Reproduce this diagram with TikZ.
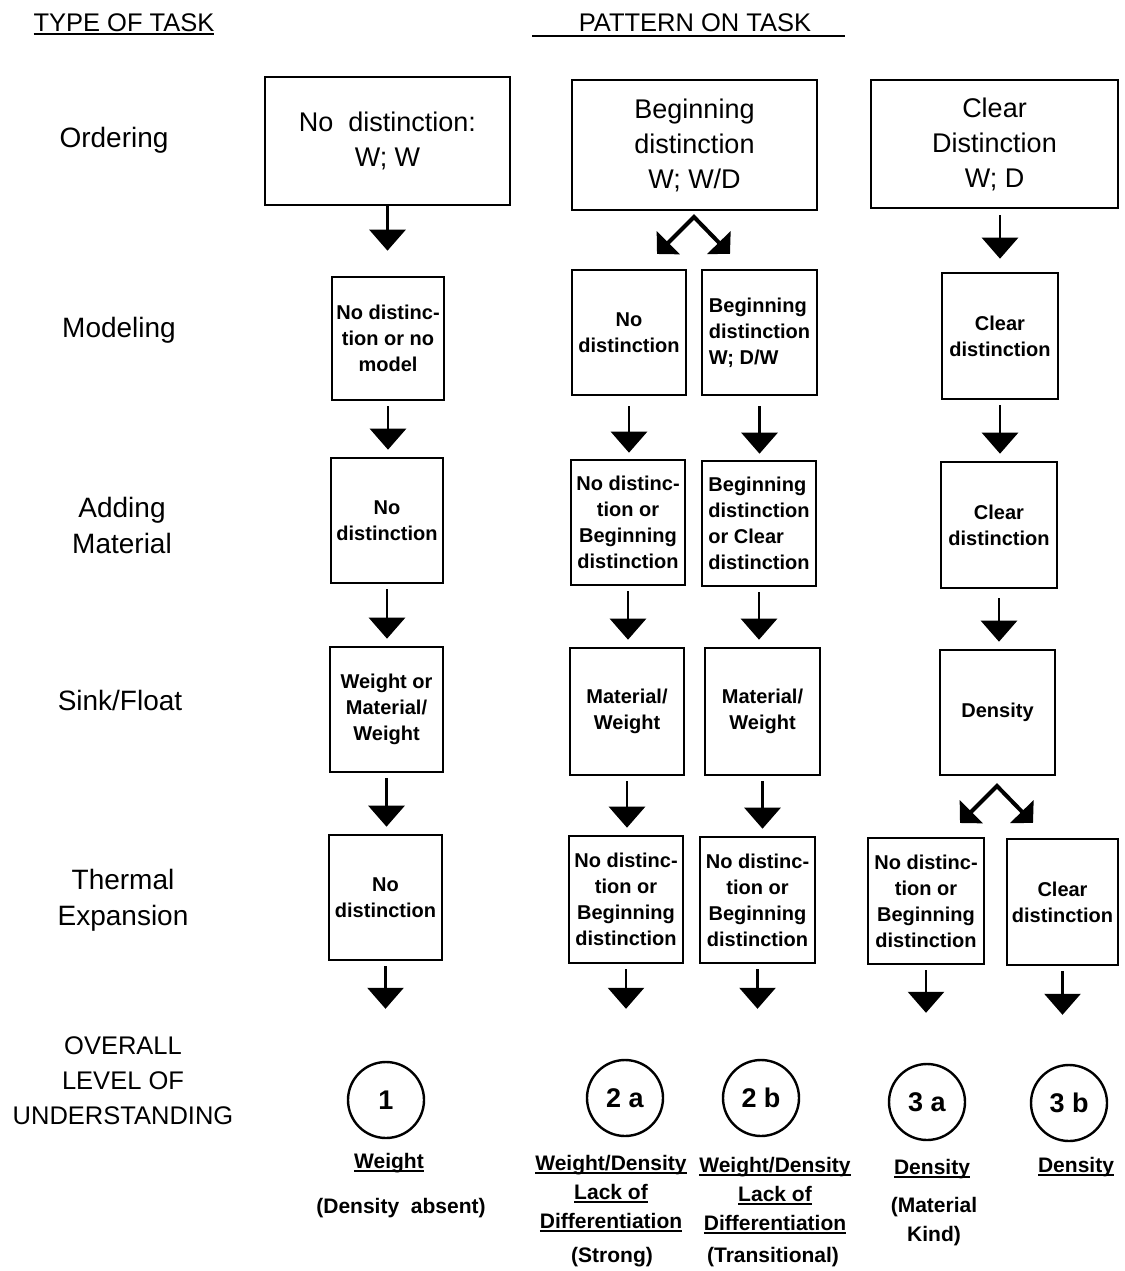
\documentclass[tikz,border=0pt]{standalone}
\usepackage{fontspec}
\setmainfont{Liberation Sans}
\usetikzlibrary{arrows.meta}
\newcommand\myul[1]{\setbox0\hbox{#1}\rlap{\rule[-3.5pt]{\wd0}{2pt}}\box0}
\begin{document}
\begin{tikzpicture}[x=1pt,y=-1pt,
  box/.style={draw, line width=2.6pt, inner sep=0pt, align=center, font=\fontsize{20}{26}\selectfont\bfseries},
  obox/.style={draw, line width=2.4pt, inner sep=0pt, align=center, font=\fontsize{27}{35}\selectfont},
  lab/.style={align=center, inner sep=0pt, font=\fontsize{28}{36}\selectfont},
  hdr/.style={inner sep=0pt, font=\fontsize{25.5}{30}\selectfont},
  circ/.style={draw, circle, line width=2.4pt, minimum size=76pt, inner sep=0pt, font=\fontsize{27}{30}\selectfont\bfseries},
  btxt/.style={align=center, inner sep=0pt, font=\fontsize{21}{29}\selectfont\bfseries},
  varr/.style={line width=2.8pt, -{Triangle[width=36pt,length=21pt]}, shorten <=5pt, shorten >=7pt},
  darr/.style={line width=4pt, line join=miter, {Triangle[width=32pt,length=16pt]}-{Triangle[width=32pt,length=16pt]}}
]
\useasboundingbox (0,0) rectangle (1124,1271);

% headers
\node[hdr] (h1) at (124,24) {\myul{TYPE OF TASK}};
\node[hdr] (h2) at (695,23) {PATTERN ON TASK};
\draw[line width=2pt] (532,36) -- (845,36);

% row labels
\node[lab] (l1) at (114,140) {Ordering};
\node[lab] (l2) at (119,330) {Modeling};
\node[lab] (l3) at (122,525) {Adding\\Material};
\node[lab] (l4) at (120,700) {Sink/Float};
\node[lab] (l5) at (123,900) {Thermal\\Expansion};
\node[lab, font=\fontsize{25.5}{35}\selectfont] (l6) at (123,1081) {OVERALL\\LEVEL OF\\UNDERSTANDING};

% ordering boxes
\node[obox, minimum width=245pt, minimum height=128pt] (o1) at (387.5,141) {No~ distinction:\\W; W};
\node[obox, minimum width=245pt, minimum height=130pt] (o2) at (694.5,145) {Beginning\\distinction\\W; W/D};
\node[obox, minimum width=247pt, minimum height=128pt] (o3) at (994.5,144) {Clear\\Distinction\\W; D};

% modeling
\node[box, minimum width=112pt, minimum height=123pt] (m1) at (388,338.5) {No distinc-\\tion or no\\model};
\node[box, minimum width=114pt, minimum height=125pt] (m2a) at (629,332.5) {No\\distinction};
\node[box, minimum width=115pt, minimum height=125pt, align=left] (m2b) at (759.5,332.5) {Beginning\\distinction\\W; D/W};
\node[box, minimum width=116pt, minimum height=126pt] (m3) at (1000,336) {Clear\\distinction};

% adding material
\node[box, minimum width=112pt, minimum height=125pt] (a1) at (387,520.5) {No\\distinction};
\node[box, minimum width=114pt, minimum height=125pt] (a2a) at (628,522.5) {No distinc-\\tion or\\Beginning\\distinction};
\node[box, minimum width=114pt, minimum height=125pt, align=left] (a2b) at (759,523.5) {Beginning\\distinction\\or Clear\\distinction};
\node[box, minimum width=116pt, minimum height=126pt] (a3) at (999,525) {Clear\\distinction};

% sink/float
\node[box, minimum width=113pt, minimum height=125pt] (s1) at (386.5,709.5) {Weight or\\Material/\\Weight};
\node[box, minimum width=114pt, minimum height=127pt] (s2a) at (627,711.5) {Material/\\Weight};
\node[box, minimum width=115pt, minimum height=127pt] (s2b) at (762.5,711.5) {Material/\\Weight};
\node[box, minimum width=115pt, minimum height=125pt] (s3) at (997.5,712.5) {Density};

% thermal expansion
\node[box, minimum width=113pt, minimum height=125pt] (t1) at (385.5,897.5) {No\\distinction};
\node[box, minimum width=114pt, minimum height=127pt] (t2a) at (626,899.5) {No distinc-\\tion or\\Beginning\\distinction};
\node[box, minimum width=115pt, minimum height=126pt] (t2b) at (757.5,900) {No distinc-\\tion or\\Beginning\\distinction};
\node[box, minimum width=116pt, minimum height=126pt] (t3a) at (926,901) {No distinc-\\tion or\\Beginning\\distinction};
\node[box, minimum width=111pt, minimum height=126pt] (t3b) at (1062.5,902) {Clear\\distinction};

% levels
\node[circ] (c1) at (386,1100) {1};
\node[circ] (c2a) at (625,1098) {2 a};
\node[circ] (c2b) at (761,1098) {2 b};
\node[circ] (c3a) at (927,1102) {3 a};
\node[circ] (c3b) at (1069,1103) {3 b};

% bottom descriptions
\node[btxt] (u1) at (389,1163) {\myul{Weight}};
\node[btxt] (p1) at (401,1208) {(Density~ absent)};
\node[btxt] (u2a) at (611,1194) {\myul{Weight/Density}\\\myul{Lack of}\\\myul{Differentiation}};
\node[btxt] (p2a) at (612,1257) {(Strong)};
\node[btxt] (u2b) at (775,1196) {\myul{Weight/Density}\\\myul{Lack of}\\\myul{Differentiation}};
\node[btxt] (p2b) at (773,1257) {(Transitional)};
\node[btxt] (u3a) at (932,1169) {\myul{Density}};
\node[btxt] (p3a) at (934,1222) {(Material\\Kind)};
\node[btxt] (u3b) at (1076,1167) {\myul{Density}};

% arrows column 1
\draw[varr, shorten <=0pt, shorten >=25pt] (o1.south) -- (o1.south |- m1.north);
\draw[varr] (m1.south) -- (m1.south |- a1.north);
\draw[varr] (a1.south) -- (a1.south |- s1.north);
\draw[varr] (s1.south) -- (s1.south |- t1.north);
\draw[varr, shorten >=52pt] (t1.south) -- (t1.south |- c1.north);

% column 2
\coordinate (o2ap) at (694,217);
\coordinate (o2l) at (657,254);
\coordinate (o2r) at (730,254);
\draw[darr] (o2l) -- (o2ap) -- (o2r);
\draw[varr, shorten <=10pt, shorten >=6pt] (m2a.south) -- (m2a.south |- a2a.north);
\draw[varr, shorten <=10pt, shorten >=6pt] (m2b.south) -- (m2b.south |- a2b.north);
\draw[varr] (a2a.south) -- (a2a.south |- s2a.north);
\draw[varr] (a2b.south) -- (a2b.south |- s2b.north);
\draw[varr] (s2a.south) -- (s2a.south |- t2a.north);
\draw[varr] (s2b.south) -- (s2b.south |- t2b.north);
\draw[varr, shorten >=50pt] (t2a.south) -- (t2a.south |- c2a.north);
\draw[varr, shorten >=50pt] (t2b.south) -- (t2b.south |- c2b.north);

% column 3
\draw[varr, shorten <=6pt, shorten >=13pt] (m3.north |- o3.south) -- (m3.north);
\draw[varr] (m3.south) -- (m3.south |- a3.north);
\draw[varr, shorten <=9pt] (a3.south) -- (a3.south |- s3.north);
\coordinate (s3ap) at (997,786);
\coordinate (s3l) at (960,823);
\coordinate (s3r) at (1033,823);
\draw[darr] (s3l) -- (s3ap) -- (s3r);
\draw[varr, shorten >=50pt] (t3a.south) -- (t3a.south |- c3a.north);
\draw[varr, shorten >=49pt] (t3b.south) -- (t3b.south |- c3b.north);
\end{tikzpicture}
\end{document}
